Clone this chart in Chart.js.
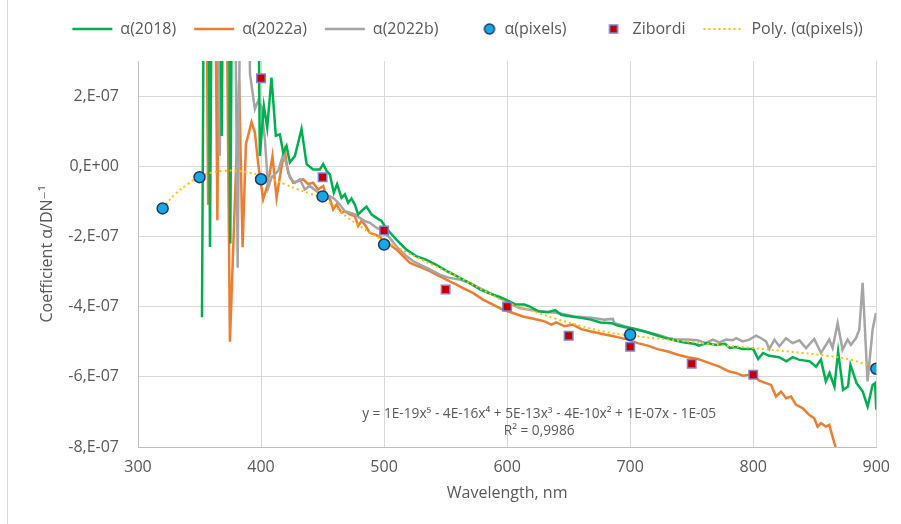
<!DOCTYPE html>
<html>
<head>
<meta charset="utf-8">
<title>Coefficient α</title>
<script src="https://cdn.jsdelivr.net/npm/chart.js@4.4.1/dist/chart.umd.min.js"></script>
<style>
    html, body { margin: 0; padding: 0; background: #ffffff; }
    #wrap { width: 901px; height: 524px; }
</style>
</head>
<body>
<div id="wrap"><canvas id="graph" width="901" height="524"></canvas></div>
<script>

// all alpha values are stored in units of 1E-07
const E7 = 1e-7;
const FONT = '"Open Sans", "DejaVu Sans", sans-serif';
const GREY_TXT = '#595959';

// alpha(2018) - wavelength (nm) / value
const wl2018 = [352, 354, 357, 358.5, 360.5, 366, 368, 370, 373.5, 375, 377, 397, 399, 402.3, 405, 408.5, 412, 415.3,
    418, 420.7, 423.4, 427.5, 432.9, 437, 442.3, 447.8, 450.5, 453.2, 455.9, 459.1, 461.8, 465.4, 468.1, 470.8,
    473.5, 476.2, 478.9, 483, 485.7, 489.7, 493.8, 497.9, 500.5, 504.6, 510, 518, 526, 534, 542, 551, 559, 569,
    578, 586, 594, 599, 607, 614, 618, 625, 633, 639, 644, 652, 660, 668, 676, 685, 690, 695, 704, 712, 720, 728,
    736, 744, 752, 756, 762, 770, 777, 781, 786, 791, 800, 804, 808, 813, 821, 827, 832, 837, 846, 851, 855, 859,
    862, 866, 869, 873, 877, 879, 884, 889, 893, 897, 899, 900];
const a2018 = [-4.3, 9, 9, -2.3, 9, 9, 0.86, 9, 9, -2.2, 9, 9, 0.29, 1.72, 1.10, 2.53, 0.87, 0.91,
    0.39, 0.58, 0.11, 0.29, 1.06, 0.06, -0.09, -0.09, 0.06, -0.13, -0.23, -0.75, -0.51, -0.90, -0.80, -1.04,
    -0.92, -1.09, -1.37, -1.23, -1.15, -1.37, -1.47, -1.56, -1.70, -1.88, -2.09, -2.37, -2.56, -2.66, -2.80, -2.99, -3.13, -3.32,
    -3.51, -3.63, -3.72, -3.80, -3.94, -3.94, -3.99, -4.13, -4.16, -4.10, -4.23, -4.28, -4.32, -4.37, -4.45, -4.47, -4.54, -4.58, -4.64, -4.71, -4.80, -4.89,
    -4.96, -5.02, -5.06, -5.11, -5.04, -5.09, -5.06, -5.18, -5.15, -5.21, -5.21, -5.49, -5.32, -5.40, -5.44, -5.56, -5.44, -5.51, -5.56, -5.71, -5.51, -6.13,
    -5.89, -6.28, -5.28, -6.37, -6.28, -5.66, -6.18, -6.42, -6.85, -6.23, -6.18, -6.94];

// alpha(2022a)
const wl2022a = [355, 357, 359, 362, 364.5, 367, 371, 374.7, 382.2, 385, 387.7, 392.3, 395, 397.7, 401.7, 405.8, 409.3,
    412.6, 416.7, 419.3, 422, 426.1, 430.1, 434.2, 438.3, 442.3, 446.4, 450.5, 453.2, 456, 458.6, 461.3, 465.4, 468.1,
    472.1, 476.2, 478.9, 481.6, 484.3, 488.4, 492.4, 496.5, 500.5, 504.6, 510, 515.4, 520.8, 526.3, 531.6, 537.1,
    542.5, 547.9, 553.3, 558.8, 564.1, 572.2, 580.3, 588.5, 596.6, 604.7, 612.8, 622.3, 630.4, 635.9, 639.9, 646.7,
    653.4, 660.2, 668.3, 676.5, 684.6, 692.7, 698.1, 706.2, 714.3, 722.4, 730.6, 738.7, 746.8, 754.9, 764.4, 772.5,
    780.6, 786.1, 791.4, 796.9, 801, 805, 810.4, 814.5, 818.5, 822.6, 826.7, 830.7, 834.8, 840.1, 845.6, 849.6,
    852.3, 855.1, 859.1, 861.8, 864.5, 867.2, 870];
const a2022a = [9, -1.1, 9, 9, -1.54, 9, 9, -5.0, 2.44, -2.31, 0.63, 1.26, 0.96, 0.06, -0.94, -0.47, 0.29,
    -0.90, 0.0, 0.44, -0.18, -0.47, -0.42, -0.37, -0.51, -0.47, -0.66, -0.56, -0.85, -0.94, -1.23, -1.09, -1.32, -1.28,
    -1.37, -1.42, -1.70, -1.56, -1.66, -1.90, -1.94, -2.01, -2.18, -2.23, -2.37, -2.56, -2.75, -2.83, -2.90, -2.99,
    -3.09, -3.18, -3.28, -3.37, -3.47, -3.61, -3.80, -3.94, -4.09, -4.18, -4.28, -4.35, -4.42, -4.51, -4.45, -4.56,
    -4.51, -4.64, -4.71, -4.77, -4.83, -4.89, -4.94, -5.04, -5.11, -5.21, -5.28, -5.37, -5.44, -5.49, -5.61, -5.71,
    -5.85, -5.89, -5.97, -5.94, -5.99, -6.11, -6.18, -6.23, -6.56, -6.42, -6.61, -6.56, -6.80, -6.89, -7.09, -7.18,
    -7.42, -7.32, -7.42, -7.37, -7.71, -8.04, -8.4];

// alpha(2022b)
const wl2022b = [359, 364, 366.5, 369, 378, 381, 384, 389, 391, 395, 397.7, 400.4, 403.1, 405.8, 408.5, 411.2, 413.9,
    418, 420.7, 423.4, 427.5, 431.5, 435.6, 439.6, 445.1, 450.5, 455.9, 459.9, 464, 468.1, 472.1, 476.2, 480.2,
    484.3, 488.4, 493.8, 499.2, 504.6, 510, 518.1, 523.5, 529, 537.1, 545.2, 553.3, 561.4, 569.5, 577.7, 585.8,
    593.9, 602, 610.1, 618.3, 627.7, 641.2, 654.8, 668.3, 679.2, 685.9, 687.3, 695.4, 706.2, 714.3, 722.4, 730.6,
    738.7, 746.8, 754.9, 761.7, 767.1, 772.5, 778, 783.3, 786.1, 791.4, 796.9, 802.3, 806.4, 810.4, 813.1, 817.2,
    821.2, 826.7, 832, 837.5, 842.9, 849.6, 855.1, 861.8, 864.5, 868.6, 872.6, 876.7, 879.4, 883.5, 886.2, 888.9,
    892.9, 897, 899.7];
const a2022b = [9, 9, 0.3, 9, 9, -2.89, 9, 9, 2.63, 1.63, 1.87, 1.68, 0.77, -0.61, -0.32, -0.23, -0.13,
    0.34, 0.06, -0.32, -0.47, -0.37, -0.66, -0.56, -0.71, -0.85, -0.85, -0.94, -1.09, -1.28, -1.32, -1.37, -1.47,
    -1.56, -1.61, -1.75, -1.85, -2.04, -2.28, -2.56, -2.70, -2.80, -2.94, -3.09, -3.18, -3.23, -3.32, -3.47, -3.61,
    -3.75, -3.91, -4.04, -4.09, -4.13, -4.18, -4.28, -4.32, -4.37, -4.35, -4.47, -4.56, -4.66, -4.73, -4.80, -4.89,
    -4.94, -4.94, -4.96, -5.04, -4.94, -5.02, -4.94, -4.96, -4.90, -4.99, -4.94, -4.83, -4.90, -4.99, -5.21, -4.94,
    -5.13, -4.90, -5.04, -4.96, -5.18, -4.92, -5.32, -4.94, -5.18, -4.47, -5.23, -4.94, -5.09, -4.90, -4.66, -3.32,
    -6.13, -4.66, -4.18];

// alpha from pixels
const wlPixels = [320, 350, 400, 450, 500, 700, 900];
const aPixels = [-1.20, -0.31, -0.37, -0.86, -2.23, -4.80, -5.77];

// Zibordi
const wlZibordi = [400, 450, 500, 550, 600, 650, 700, 750, 800];
const aZibordi = [2.51, -0.31, -1.83, -3.51, -4.00, -4.83, -5.14, -5.63, -5.94];

// polynomial trendline of alpha(pixels)
const wlPoly = [320, 330, 340, 350, 360, 370, 380, 390, 400, 410, 420, 430, 440, 450, 460, 470, 480, 490, 500,
    520, 540, 560, 580, 600, 620, 640, 660, 680, 700, 720, 740, 760, 780, 800, 820, 840, 860, 880, 900];
const aPoly = [-1.20, -0.80, -0.52, -0.30, -0.18, -0.13, -0.13, -0.18, -0.27, -0.38, -0.52, -0.66, -0.78, -0.92,
    -1.15, -1.45, -1.70, -1.92, -2.12, -2.48, -2.82, -3.15, -3.52, -3.88, -4.12, -4.35, -4.55, -4.72, -4.82,
    -4.90, -4.97, -5.05, -5.12, -5.18, -5.25, -5.32, -5.40, -5.52, -5.75];

const equation = 'y = 1E-19x⁵ - 4E-16x⁴ + 5E-13x³ - 4E-10x² + 1E-07x - 1E-05';
const rSquared = 'R² = 0,9986';

const KEY_W = 40;   // legend symbol box

function pts(xs, ys) {
    return xs.map((x, i) => ({ x: x, y: ys[i] * E7 }));
}

// 2E-07 -> "2,E-07", 0 -> "0,E+00"
function sciLabel(v) {
    if (Math.abs(v) < 1e-12) return '0,E+00';
    const parts = v.toExponential(0).split('e');
    const n = parseInt(parts[1], 10);
    return parts[0] + ',E' + (n < 0 ? '-' : '+') + String(Math.abs(n)).padStart(2, '0');
}

function lineSet(label, xs, ys, color, order) {
    return {
        label: label,
        data: pts(xs, ys),
        borderColor: color,
        backgroundColor: color,
        borderWidth: 2.5,
        pointRadius: 0,
        pointHoverRadius: 0,
        pointStyle: 'line',
        pointBorderWidth: 2.5,
        tension: 0,
        order: order
    };
}

// small legend keys for the marker series: symbol sits on the right of the box
function markerKey(ds, cx) {
    const c = document.createElement('canvas');
    c.width = KEY_W;
    c.height = 14;
    const g = c.getContext('2d');
    g.fillStyle = ds.pointBackgroundColor;
    g.strokeStyle = ds.pointBorderColor;
    g.lineWidth = 1.5;
    g.beginPath();
    if (ds.pointStyle === 'circle') {
        g.arc(cx, 7, 5, 0, Math.PI * 2);
    } else {
        g.rect(cx - 4, 3, 8, 8);
    }
    g.fill();
    g.stroke();
    return c;
}

// equation of the trendline, written under the curves
const trendLabel = {
    id: 'trendLabel',
    afterDraw(chart) {
        const ctx = chart.ctx;
        const x = chart.scales.x, y = chart.scales.y;
        ctx.save();
        ctx.font = '13.7px ' + FONT;
        ctx.fillStyle = GREY_TXT;
        ctx.textAlign = 'center';
        ctx.textBaseline = 'middle';
        ctx.fillText(equation, x.getPixelForValue(626), y.getPixelForValue(-7.06 * E7));
        ctx.fillText(rSquared, x.getPixelForValue(626), y.getPixelForValue(-7.55 * E7));
        ctx.restore();
    }
};

// thin frame line on the left edge of the chart
const frameEdge = {
    id: 'frameEdge',
    beforeDraw(chart) {
        const ctx = chart.ctx;
        ctx.save();
        ctx.strokeStyle = '#D9D9D9';
        ctx.lineWidth = 1;
        ctx.beginPath();
        ctx.moveTo(7.5, 0);
        ctx.lineTo(7.5, chart.height);
        ctx.stroke();
        ctx.restore();
    }
};

// legend: a bit more room under it, and the row pushed right
const legendGap = {
    id: 'legendGap',
    beforeInit(chart) {
        const fit = chart.legend.fit;
        chart.legend.fit = function () {
            fit.bind(chart.legend)();
            this.height += 14;
        };
    },
    afterLayout(chart) {
        chart.legend.left += 19;
        chart.legend.right += 19;
    }
};

Chart.defaults.font.family = FONT;
Chart.defaults.color = GREY_TXT;

const pixelsSet = {
    label: 'α(pixels)',
    data: pts(wlPixels, aPixels),
    showLine: false,
    pointStyle: 'circle',
    pointRadius: 5.5,
    pointBackgroundColor: '#16A8E6',
    pointBorderColor: '#1F3864',
    pointBorderWidth: 1.5,
    backgroundColor: '#16A8E6',
    borderColor: '#1F3864',
    order: 0
};

const zibordiSet = {
    label: 'Zibordi',
    data: pts(wlZibordi, aZibordi),
    showLine: false,
    pointStyle: 'rect',
    pointRadius: 6,
    pointBackgroundColor: '#C00000',
    pointBorderColor: '#8080D8',
    pointBorderWidth: 1.5,
    backgroundColor: '#C00000',
    borderColor: '#8080D8',
    order: 1
};

const keys = {
    'α(pixels)': markerKey(pixelsSet, KEY_W - 7),
    'Zibordi': markerKey(zibordiSet, KEY_W - 11)
};

new Chart(document.getElementById('graph'), {
    type: 'line',
    data: {
        datasets: [
            lineSet('α(2018)', wl2018, a2018, '#00B050', 3),
            lineSet('α(2022a)', wl2022a, a2022a, '#ED7D31', 5),
            lineSet('α(2022b)', wl2022b, a2022b, '#A5A5A5', 4),
            pixelsSet,
            zibordiSet,
            {
                label: 'Poly. (α(pixels))',
                data: pts(wlPoly, aPoly),
                borderColor: '#FFC000',
                backgroundColor: '#FFC000',
                borderWidth: 2,
                borderDash: [2, 3],
                pointRadius: 0,
                pointHoverRadius: 0,
                pointStyle: 'line',
                pointBorderWidth: 2,
                tension: 0.4,
                order: 2
            }
        ]
    },
    options: {
        responsive: false,
        animation: false,
        layout: {
            padding: { top: 3, left: 20, right: 24, bottom: 10 }
        },
        scales: {
            x: {
                type: 'linear',
                min: 300,
                max: 900,
                ticks: {
                    stepSize: 100,
                    padding: 11,
                    color: GREY_TXT,
                    font: { size: 16 }
                },
                grid: { color: '#D9D9D9', drawTicks: false },
                border: { color: '#BFBFBF' },
                title: {
                    display: true,
                    text: 'Wavelength, nm',
                    color: GREY_TXT,
                    font: { size: 16 },
                    padding: { top: 4, bottom: 11 }
                },
                afterFit(scale) { scale.height = 67; }
            },
            y: {
                min: -8 * E7,
                max: 3 * E7,
                ticks: {
                    stepSize: 2 * E7,
                    includeBounds: false,
                    padding: 19,
                    color: GREY_TXT,
                    font: { size: 16 },
                    callback: (v) => sciLabel(v)
                },
                grid: { color: '#D9D9D9', drawTicks: false },
                border: { color: '#BFBFBF' },
                title: {
                    display: true,
                    text: 'Coefficient α/DN⁻¹',
                    color: GREY_TXT,
                    font: { size: 16 },
                    padding: { top: 18, bottom: 4 }
                },
                afterFit(scale) { scale.width = 118; }
            }
        },
        plugins: {
            legend: {
                position: 'top',
                labels: {
                    usePointStyle: true,
                    pointStyleWidth: KEY_W,
                    boxHeight: 8,
                    padding: 18,
                    color: GREY_TXT,
                    font: { size: 16 },
                    sort: (a, b) => a.datasetIndex - b.datasetIndex,
                    generateLabels(chart) {
                        const items = Chart.defaults.plugins.legend.labels.generateLabels(chart);
                        items.forEach(function (it) {
                            const ds = chart.data.datasets[it.datasetIndex];
                            if (ds.borderDash) it.lineDash = ds.borderDash;
                            if (keys[it.text]) it.pointStyle = keys[it.text];
                        });
                        return items;
                    }
                }
            },
            tooltip: { enabled: false }
        }
    },
    plugins: [trendLabel, legendGap, frameEdge]
});
</script>
</body>
</html>
